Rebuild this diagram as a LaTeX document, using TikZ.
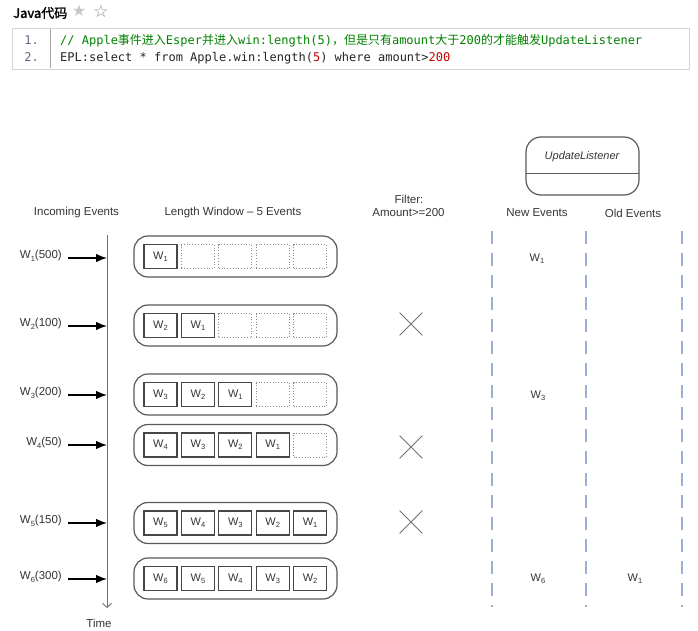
\documentclass[tikz,border=0pt]{standalone}
\usepackage{fontspec}
\setmainfont{Liberation Sans}
\newfontfamily\cjk{Noto Sans CJK SC}
\newfontfamily\cjkb{Noto Sans CJK SC}[FakeBold=1.6]
\newfontfamily\mono{DejaVu Sans Mono}
\newfontfamily\symf{DejaVu Sans}
\usetikzlibrary{arrows.meta,shapes.misc}
\definecolor{cgreen}{HTML}{008200}
\definecolor{cred}{HTML}{C00000}
\definecolor{lnum}{HTML}{5C6A80}
\definecolor{txt}{HTML}{353535}
\definecolor{dashc}{HTML}{9DB0D4}
\newcommand\sbs[1]{\raisebox{-0.35ex}{\fontsize{7.5}{8}\selectfont #1}}
\tikzset{
  hdr/.style={text=txt,font=\fontsize{11.5}{13}\selectfont,inner sep=0pt},
  codeline/.style={anchor=base west,inner sep=0pt,font=\mono\fontsize{12}{14}\selectfont},
  window/.style={draw=black!65,line width=1.2pt,rounded corners=14pt,minimum width=203pt,minimum height=41pt,inner sep=0pt},
  fullcell/.style={draw=black!72,line width=1.1pt,minimum width=33pt,minimum height=24pt,inner sep=0pt,text=txt,font=\fontsize{11}{12}\selectfont},
  emptycell/.style={draw=black!45,dotted,line width=0.8pt,minimum width=33pt,minimum height=24pt,inner sep=0pt},
  evarrow/.style={line width=1.3pt,-{Latex[length=11pt,width=8.5pt]}},
  timeaxis/.style={draw=black!55,line width=0.9pt,-{Straight Barb[length=4pt,width=9pt]}},
  xmark/.style={cross out,draw=black!55,line width=0.8pt,minimum size=22pt,inner sep=0pt},
  sep/.style={draw=dashc,line width=1.4pt,dash pattern=on 12.5pt off 9.5pt},
  outev/.style={text=txt,font=\fontsize{11}{12}\selectfont,inner sep=0pt},
}
\begin{document}
\begin{tikzpicture}[x=1pt,y=-1pt]
\useasboundingbox[fill=white] (0,0) rectangle (698,631);
% --- code header
\node[anchor=west,inner sep=0pt,font=\cjkb\fontsize{13}{15}\selectfont] (jtitle) at (13,13) {Java代码};
\node[inner sep=0pt,text=black!22,font=\symf\fontsize{16}{18}\selectfont] (star1) at (79,11) {★};
\node[inner sep=0pt,text=black!45,font=\symf\fontsize{17}{18}\selectfont] (star2) at (101,11) {☆};
\node[draw=black!17,fill=white,line width=0.8pt,minimum width=677pt,minimum height=41pt,inner sep=0pt] (codebox) at (350.5,48.5) {};
\coordinate (sept) at (50,29);
\coordinate (sepb) at (50,68);
\draw[black!35,line width=0.8pt] (sept) -- (sepb);
\node[anchor=base east,inner sep=0pt,text=lnum,font=\mono\fontsize{12}{14}\selectfont] (n1) at (39,45) {1.};
\node[anchor=base east,inner sep=0pt,text=lnum,font=\mono\fontsize{12}{14}\selectfont] (n2) at (39,62) {2.};
\node[codeline,text=cgreen] (code1) at (60,45) {// Apple{\cjk 事件进入}Esper{\cjk 并进入}win:length(5){\cjk ，但是只有}amount{\cjk 大于}200{\cjk 的才能触发}UpdateListener};
\node[codeline,text=black!85] (code2) at (60,62) {EPL:select * from Apple.win:length({\color{cred}5}) where amount>{\color{cred}200}};
% --- headers
\node[hdr] (hin) at (76.5,213) {Incoming Events};
\node[hdr] (hwin) at (233,213) {Length Window -- 5 Events};
\node[hdr] (hf1) at (409,199.5) {Filter:};
\node[hdr] (hf2) at (408.5,213) {Amount>=200};
\node[hdr] (hnew) at (537,213) {New Events};
\node[hdr] (hold) at (633,213) {Old Events};
% --- UpdateListener
\node[draw=black!65,line width=1.2pt,rounded corners=15pt,minimum width=113pt,minimum height=58pt,inner sep=0pt] (ul) at (582.5,166) {};
\coordinate (ulL) at (526,174);
\coordinate (ulR) at (639,174);
\draw[black!65,line width=1pt] (ulL) -- (ulR);
\node[text=txt,inner sep=0pt,font=\itshape\fontsize{11}{12}\selectfont] (ultext) at (582,157) {UpdateListener};
% --- time axis
\coordinate (ttop) at (107,235);
\coordinate (tbot) at (107,608);
\draw[timeaxis] (ttop) -- (tbot);
\node[hdr] (time) at (99,623) {Time};
% --- incoming events
\foreach \r/\ay/\v in {1/258/500,2/326/100,3/395/200,4/445/50,5/523/150,6/579/300} {
  \node[hdr,anchor=east] (lab\r) at (62,\ay-2) {W\sbs{\r}(\v)};
  \coordinate (s\r) at (68,\ay);
  \coordinate (a\r) at (107,\ay);
  \draw[evarrow] (s\r) -- (a\r);
}
% --- windows
\foreach \r/\y in {1/256.5,2/325.5,3/394.5,4/445,5/523,6/578.5} {
  \node[window] (win\r) at (235.5,\y) {};
  \foreach \c in {1,...,5} {
    \pgfmathtruncatemacro\k{\r+1-\c}
    \ifnum\k>0
      \node[fullcell] (c\r\c) at ({160.5+37.4*(\c-1)},\y) {W\sbs{\k}};
    \else
      \node[emptycell] (c\r\c) at ({160.5+37.4*(\c-1)},\y) {};
    \fi
  }
}
% --- filter crosses
\node[xmark] (x2) at (411,324) {};
\node[xmark] (x4) at (411,447) {};
\node[xmark] (x5) at (411,522) {};
% --- separators
\foreach \i/\x in {1/492,2/586,3/682} {
  \coordinate (d\i t) at (\x,231);
  \coordinate (d\i b) at (\x,607);
  \draw[sep] (d\i t) -- (d\i b);
}
% --- output events
\node[outev] (ne1) at (537,259) {W\sbs{1}};
\node[outev] (ne3) at (538,396) {W\sbs{3}};
\node[outev] (ne6) at (538,579) {W\sbs{6}};
\node[outev] (oe1) at (635,579) {W\sbs{1}};
\end{tikzpicture}
\end{document}
